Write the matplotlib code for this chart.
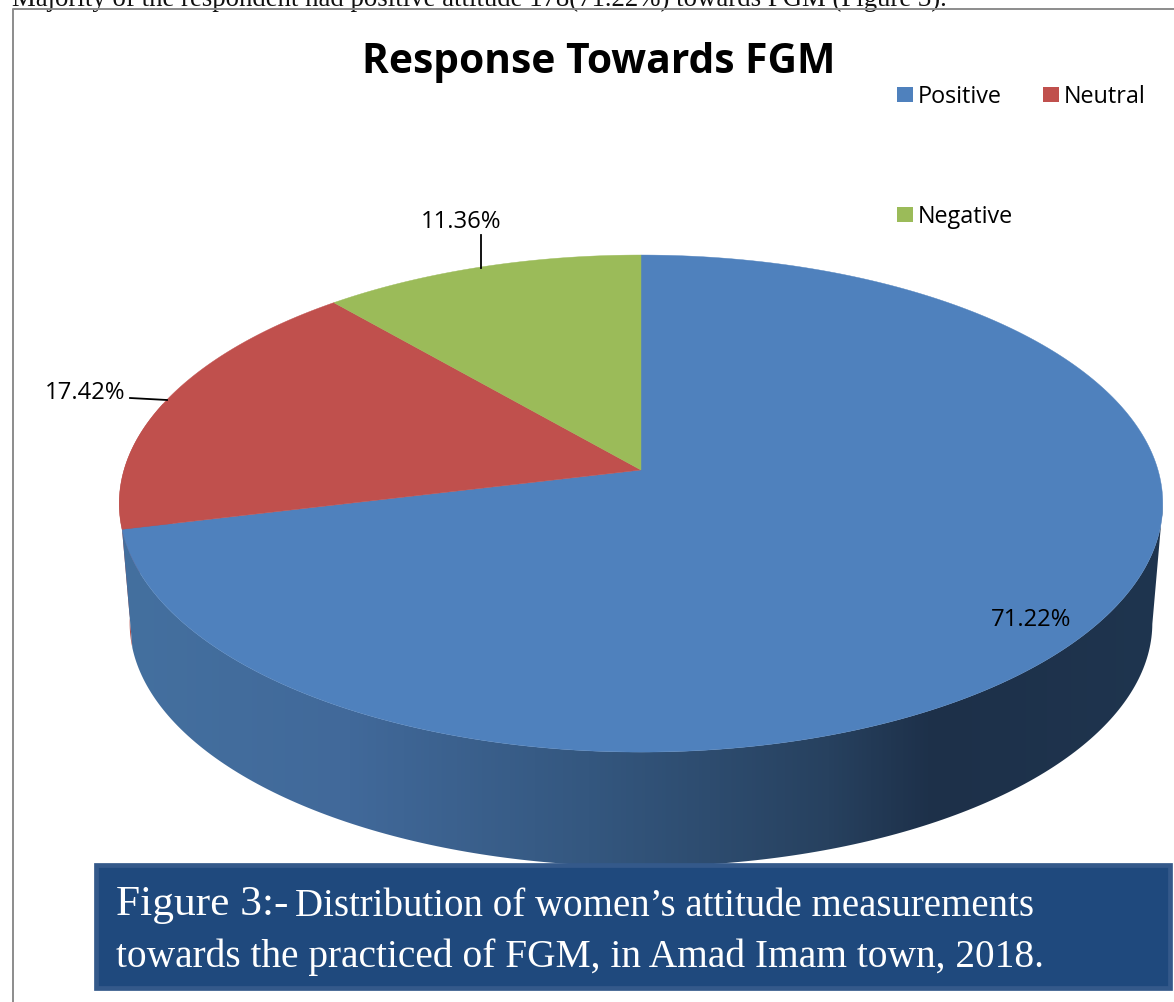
import numpy as np
import matplotlib
matplotlib.use("Agg")
import matplotlib.pyplot as plt
from matplotlib.patches import Polygon, Rectangle
from matplotlib.colors import LinearSegmentedColormap

categories = ['Positive', 'Neutral', 'Negative']
percent = [71.22, 17.42, 11.36]
colors = ['#4F81BD', '#C0504D', '#9BBB59']

# projected pie, all in image pixels
cx, cy = 641, 470
rx, ry, persp = 517, 244, 0.135
depth, shrink = 120, 0.98


def rim(theta, lower=False):
    t = np.radians(theta)
    s = 1 / (1 + persp * np.cos(t))
    x = cx + rx * np.sin(t) * s
    y = cy - ry * np.cos(t) * s
    if lower:
        x = cx + (x - cx) * shrink
        y = cy + (y - cy) * shrink + depth
    return x, y


fig = plt.figure(figsize=(11.74, 10.02), dpi=100)
ax = fig.add_axes([0, 0, 1, 1])
ax.set_xlim(0, 1174)
ax.set_ylim(1002, 0)
ax.axis('off')

# page text and frame
ax.text(12, 6, 'Majority of the respondent had positive attitude 178(71.22%) towards FGM (Figure 3).',
        family='Liberation Serif', fontsize=19.3, color='#111111', va='baseline', ha='left', zorder=1)
ax.plot([13, 13, 1174], [1002, 9, 9], color='#8c8c8c', lw=1.4, zorder=2)

bounds = np.cumsum([0] + percent) * 3.6

# side wall, neutral sliver first then positive
th = np.linspace(bounds[1], bounds[1] + 30, 40)
px, py = rim(th)
qx, qy = rim(th[::-1], lower=True)
ax.add_patch(Polygon(np.column_stack([np.r_[px, qx], np.r_[py, qy]]), fc='#B04A47', ec='none', zorder=3))

th = np.linspace(98, bounds[1], 200)
px, py = rim(th)
qx, qy = rim(th[::-1], lower=True)
side = Polygon(np.column_stack([np.r_[px, qx], np.r_[py, qy]]), fc='none', ec='none', zorder=4)
ax.add_patch(side)
side_cmap = LinearSegmentedColormap.from_list('side', [
    (0.0, '#44709F'), (0.22, '#41699A'), (0.45, '#34577F'),
    (0.68, '#27415F'), (0.78, '#1D3049'), (1.0, '#1F354F')])
img = ax.imshow(np.linspace(0, 1, 512).reshape(1, -1), cmap=side_cmap, aspect='auto',
                extent=[118, 1165, 1002, 0], zorder=4)
img.set_clip_path(side)
ax.set_xlim(0, 1174)
ax.set_ylim(1002, 0)

# top faces
for i, c in enumerate(colors):
    th = np.linspace(bounds[i], bounds[i + 1], 300)
    x, y = rim(th)
    ax.add_patch(Polygon(np.column_stack([np.r_[cx, x], np.r_[cy, y]]), fc=c, ec=c, lw=0.3, zorder=5))

# title, labels
ax.text(599, 62, 'Response Towards FGM', family='Open Sans', weight='bold', fontsize=29.3,
        ha='center', va='center', color='black', zorder=6)
ax.text(1031, 620, f'{percent[0]:.2f}%', family='Open Sans', fontsize=17.2, ha='center', va='center', zorder=6)
ax.text(85, 393, f'{percent[1]:.2f}%', family='Open Sans', fontsize=17.2, ha='center', va='center', zorder=6)
ax.text(461, 222, f'{percent[2]:.2f}%', family='Open Sans', fontsize=17.2, ha='center', va='center', zorder=6)
ax.plot([130, 167], [398, 400], color='black', lw=1.3, zorder=6)
ax.plot([480.5, 480.5], [235, 268], color='black', lw=1.3, zorder=6)

# legend
leg_pos = [(897, 87), (1043, 87), (897, 207)]
for (lx, ly), name, c in zip(leg_pos, categories, colors):
    ax.add_patch(Rectangle((lx, ly), 16, 15, fc=c, ec='none', zorder=6))
    ax.text(lx + 21, ly + 9.5, name, family='Open Sans', fontsize=16.8, va='center', ha='left', zorder=6)

# caption box
ax.add_patch(Rectangle((96, 864.5), 1074, 123.5, fc='#1F497D', ec='#34598A', lw=3.4, zorder=7))
ax.text(116, 905, 'Figure 3:-', family='Liberation Serif', fontsize=31.2, color='white', va='center', ha='left', zorder=8)
ax.text(295, 907, 'Distribution of women\u2019s attitude measurements', family='Liberation Serif',
        fontsize=28, color='white', va='center', ha='left', zorder=8)
ax.text(116, 957, 'towards the practiced of FGM, in Amad Imam town, 2018.', family='Liberation Serif',
        fontsize=28.35, color='white', va='center', ha='left', zorder=8)

fig.savefig('out.png', dpi=100, facecolor='white')
